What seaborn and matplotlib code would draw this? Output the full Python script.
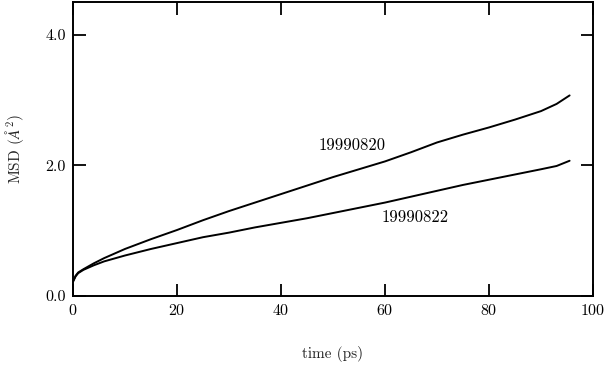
import numpy as np
import pandas as pd
import matplotlib
matplotlib.use("Agg")
import matplotlib.pyplot as plt
import seaborn as sns

# Valores
time_ps = [0, 0.5, 1, 2, 4, 6, 10, 15, 20, 25, 30, 35, 40, 45, 50, 55,
           60, 65, 70, 75, 80, 85, 90, 93, 95.5]
msd_0820 = [0.22, 0.31, 0.36, 0.41, 0.50, 0.58, 0.72, 0.87, 1.01, 1.16, 1.30,
            1.43, 1.56, 1.69, 1.82, 1.94, 2.06, 2.20, 2.35, 2.47, 2.58, 2.70,
            2.83, 2.94, 3.07]
msd_0822 = [0.22, 0.30, 0.35, 0.40, 0.47, 0.53, 0.62, 0.72, 0.81, 0.90, 0.97,
            1.05, 1.12, 1.19, 1.27, 1.35, 1.43, 1.52, 1.61, 1.70, 1.78, 1.86,
            1.94, 1.99, 2.07]
run_names = ["19990820", "19990822"]
label_pos = [(53.6, 2.3), (65.7, 1.2)]

df = pd.DataFrame({
    "time": time_ps * 2,
    "msd": msd_0820 + msd_0822,
    "run": [run_names[0]] * len(time_ps) + [run_names[1]] * len(time_ps),
})

sns.set_theme(style="ticks")
plt.rcParams["font.family"] = ["cmr10", "DejaVu Serif"]
plt.rcParams["mathtext.fontset"] = "cm"
plt.rcParams["axes.formatter.use_mathtext"] = True

fig = plt.figure(figsize=(6.05, 3.65), dpi=100)
ax = fig.add_axes([73 / 605, 1 - 296 / 365, 520 / 605, 294 / 365])

sns.lineplot(data=df, x="time", y="msd", units="run", estimator=None,
             color="black", linewidth=1.4, ax=ax)

for name, (tx, ty) in zip(run_names, label_pos):
    ax.text(tx, ty, name, ha="center", va="center", fontsize=12, color="black")

ax.set_xlim(0, 100)
ax.set_ylim(0, 4.5)
ax.set_xticks([0, 20, 40, 60, 80, 100])
ax.set_yticks([0, 2, 4])
ax.set_yticklabels(["0.0", "2.0", "4.0"])
ax.tick_params(direction="in", length=9, width=1.3, top=True, right=True,
               labelsize=11.5, colors="black", pad=5)
for s in ax.spines.values():
    s.set_linewidth(1.4)
    s.set_color("black")

ax.set_xlabel("time (ps)", fontsize=11, labelpad=20)
ax.set_ylabel(r"MSD ($\mathit{\AA}^2$)", fontsize=11, labelpad=14)

fig.savefig("out.png", dpi=100)
